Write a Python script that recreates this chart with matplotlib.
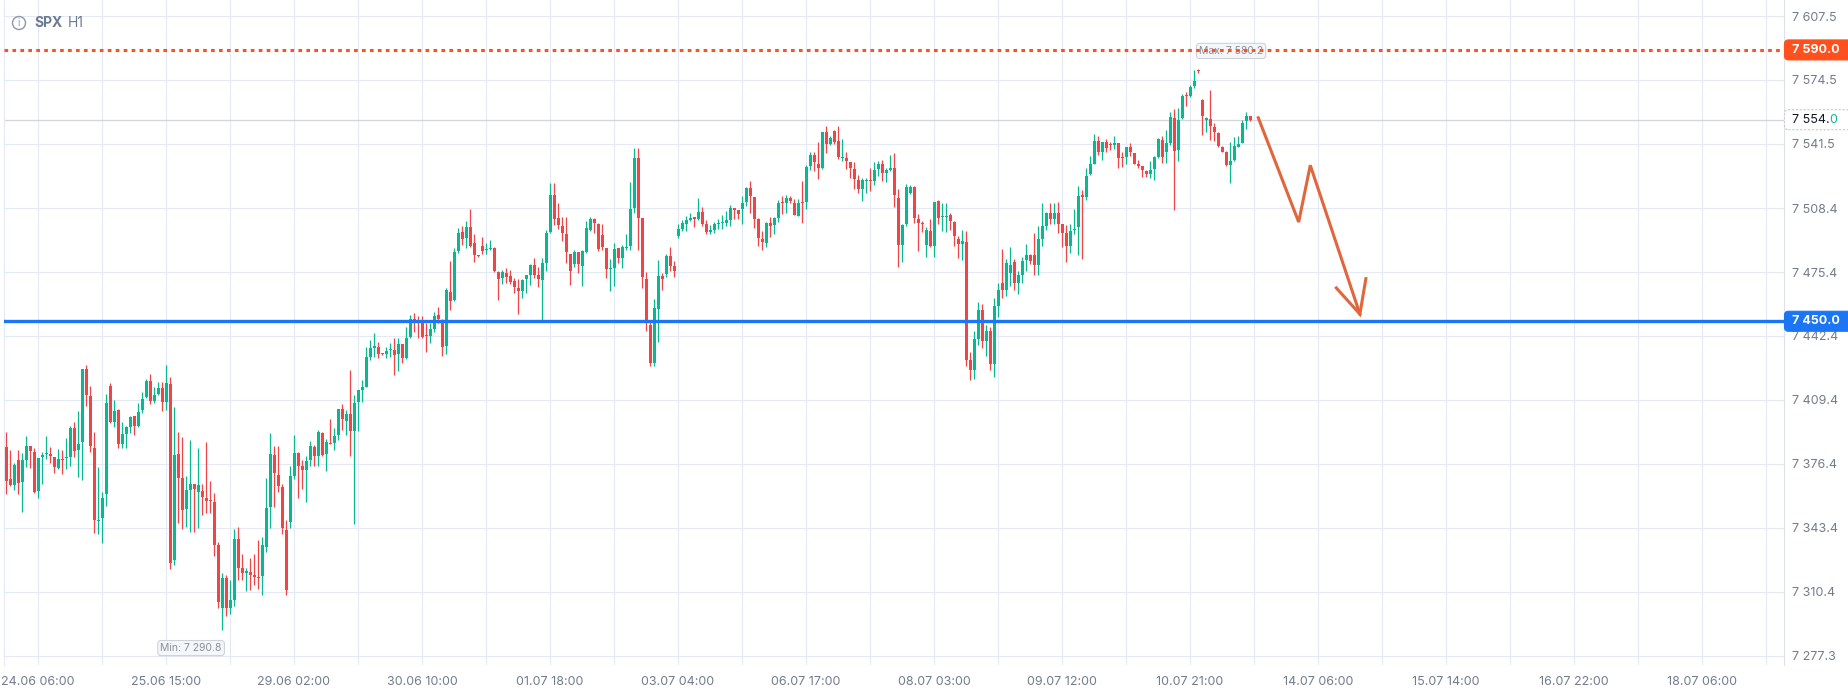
import numpy as np
import matplotlib.pyplot as plt
from matplotlib.patches import FancyBboxPatch, Circle
from matplotlib.transforms import IdentityTransform

plt.rcParams['font.family'] = ['Inter', 'DejaVu Sans']

# SPX H1 candles (open / high / low / close)
o = [7385.1, 7368.6, 7365.7, 7378.4, 7367.2, 7378.4, 7385.6, 7382.5, 7362.6, 7380.0,
     7381.4, 7381.5, 7380.0, 7374.3, 7378.8, 7379.5, 7380.0, 7394.9, 7383.6, 7387.7,
     7425.4, 7411.4, 7384.6, 7347.1, 7348.7, 7361.1, 7416.6, 7398.0, 7404.2, 7386.8,
     7391.8, 7395.4, 7401.1, 7396.0, 7404.2, 7410.9, 7419.2, 7408.9, 7412.5, 7415.6,
     7408.3, 7417.8, 7327.0, 7381.5, 7369.3, 7353.3, 7363.1, 7365.9, 7362.1, 7362.4,
     7358.8, 7357.4, 7356.7, 7334.7, 7302.0, 7317.5, 7302.0, 7306.0, 7337.6, 7322.8,
     7320.3, 7320.8, 7318.9, 7318.0, 7318.4, 7333.3, 7354.2, 7381.0, 7370.7, 7364.5,
     7342.3, 7346.4, 7370.2, 7382.0, 7375.3, 7373.3, 7378.4, 7385.1, 7380.5, 7392.3,
     7381.5, 7387.0, 7387.2, 7391.3, 7404.7, 7398.5, 7402.1, 7393.4, 7408.3, 7414.5,
     7416.1, 7431.5, 7436.2, 7436.7, 7433.1, 7433.1, 7435.1, 7435.2, 7433.1, 7438.3,
     7431.0, 7441.9, 7451.2, 7449.6, 7449.1, 7442.4, 7442.4, 7446.0, 7453.2, 7450.6,
     7437.2, 7465.1, 7460.9, 7486.2, 7496.0, 7492.9, 7498.6, 7490.4, 7483.8, 7488.8,
     7486.6, 7487.3, 7487.8, 7475.4, 7472.3, 7474.9, 7473.3, 7470.8, 7467.2, 7465.6,
     7471.8, 7473.9, 7479.0, 7473.9, 7471.3, 7480.1, 7496.0, 7515.1, 7503.3, 7499.1,
     7495.0, 7484.7, 7479.5, 7485.7, 7478.5, 7485.7, 7497.1, 7502.8, 7500.2, 7494.5,
     7487.8, 7476.9, 7477.5, 7487.8, 7482.6, 7487.8, 7488.8, 7508.4, 7534.2, 7503.3,
     7471.8, 7448.1, 7428.6, 7456.3, 7473.3, 7474.4, 7483.6, 7478.5, 7494.0, 7497.6,
     7500.2, 7502.2, 7503.5, 7502.7, 7506.3, 7500.2, 7496.0, 7497.1, 7500.2, 7500.7,
     7500.7, 7502.2, 7508.4, 7507.4, 7507.9, 7511.5, 7518.7, 7514.1, 7502.7, 7492.4,
     7490.4, 7500.7, 7499.6, 7503.2, 7511.5, 7511.0, 7513.6, 7511.0, 7504.3, 7511.5,
     7511.5, 7530.1, 7535.8, 7531.1, 7529.1, 7547.6, 7541.4, 7548.1, 7543.0, 7534.2,
     7534.2, 7532.2, 7528.5, 7522.9, 7518.2, 7522.3, 7522.9, 7522.3, 7528.5, 7531.1,
     7526.5, 7528.0, 7529.1, 7513.6, 7489.3, 7500.2, 7516.2, 7519.2, 7502.7, 7500.7,
     7489.4, 7496.6, 7488.8, 7512.1, 7503.8, 7503.9, 7504.8, 7501.2, 7492.5, 7489.9,
     7490.9, 7430.0, 7425.0, 7441.0, 7456.0, 7440.0, 7445.0, 7428.0, 7458.0, 7470.0,
     7466.0, 7475.0, 7480.6, 7470.0, 7474.0, 7481.6, 7484.2, 7484.2, 7479.0, 7492.5,
     7499.2, 7505.9, 7502.8, 7505.9, 7500.2, 7495.5, 7488.8, 7497.1, 7498.6, 7514.6,
     7514.1, 7526.0, 7531.2, 7543.0, 7537.3, 7542.5, 7541.0, 7540.9, 7542.0, 7534.3,
     7534.8, 7539.9, 7536.8, 7531.2, 7530.1, 7527.5, 7526.0, 7528.6, 7534.8, 7543.5,
     7537.3, 7542.0, 7554.9, 7538.4, 7554.9, 7566.2, 7566.2, 7571.4, 7579.8, 7564.2,
     7553.9, 7554.4, 7550.2, 7547.2, 7539.9, 7537.3, 7530.6, 7533.2, 7539.9, 7542.0,
     7553.3, 7555.9]
h = [7392.9, 7383.6, 7376.9, 7383.6, 7382.0, 7390.8, 7385.6, 7384.6, 7379.5, 7382.5,
     7390.8, 7385.1, 7380.0, 7384.1, 7383.6, 7389.8, 7396.0, 7398.0, 7403.7, 7425.4,
     7427.4, 7416.6, 7392.9, 7374.8, 7361.9, 7412.6, 7418.2, 7409.4, 7404.7, 7398.0,
     7396.0, 7401.1, 7401.1, 7407.8, 7413.5, 7420.2, 7422.8, 7416.1, 7418.7, 7418.7,
     7427.4, 7421.4, 7405.8, 7392.9, 7390.3, 7370.3, 7388.7, 7365.9, 7384.8, 7365.9,
     7387.5, 7367.8, 7361.4, 7336.0, 7320.0, 7319.0, 7316.5, 7342.8, 7344.0, 7329.9,
     7322.8, 7327.8, 7330.0, 7337.1, 7338.8, 7369.1, 7392.4, 7385.6, 7385.6, 7366.0,
     7347.5, 7375.3, 7391.3, 7382.5, 7378.4, 7380.5, 7388.2, 7386.2, 7393.9, 7392.9,
     7389.2, 7399.6, 7394.9, 7404.7, 7407.3, 7404.2, 7424.8, 7411.9, 7414.5, 7419.7,
     7436.7, 7440.3, 7443.9, 7439.3, 7433.5, 7436.7, 7438.8, 7441.4, 7441.4, 7438.3,
     7447.0, 7453.2, 7454.3, 7452.7, 7452.7, 7449.1, 7449.1, 7454.8, 7457.3, 7451.2,
     7467.0, 7481.1, 7487.8, 7498.1, 7499.1, 7501.7, 7507.9, 7495.0, 7484.0, 7493.5,
     7490.4, 7491.9, 7488.3, 7475.9, 7476.4, 7477.5, 7476.4, 7472.3, 7471.8, 7471.8,
     7473.9, 7479.5, 7482.6, 7478.0, 7482.6, 7497.1, 7521.3, 7521.3, 7511.0, 7503.8,
     7503.8, 7484.7, 7486.8, 7485.7, 7486.8, 7501.7, 7503.8, 7503.3, 7500.7, 7500.2,
     7487.8, 7482.1, 7490.4, 7487.8, 7489.3, 7495.0, 7521.8, 7539.4, 7539.4, 7503.3,
     7475.4, 7450.0, 7461.5, 7481.6, 7474.9, 7484.7, 7488.3, 7481.0, 7500.2, 7502.2,
     7504.3, 7505.8, 7503.8, 7513.6, 7508.9, 7502.2, 7499.6, 7501.2, 7502.7, 7504.8,
     7506.9, 7510.0, 7508.4, 7507.4, 7514.6, 7519.2, 7522.3, 7514.1, 7503.2, 7496.5,
     7501.2, 7503.8, 7503.8, 7512.5, 7514.6, 7515.1, 7514.6, 7513.1, 7513.1, 7522.3,
     7530.6, 7537.3, 7537.3, 7542.5, 7547.6, 7550.7, 7545.6, 7548.7, 7550.7, 7544.0,
     7537.3, 7532.2, 7532.2, 7525.4, 7523.9, 7523.9, 7529.0, 7532.2, 7532.7, 7533.2,
     7529.1, 7535.8, 7536.8, 7518.2, 7500.2, 7520.8, 7520.3, 7519.7, 7505.3, 7501.7,
     7498.6, 7502.8, 7511.6, 7512.6, 7511.0, 7511.0, 7505.9, 7501.7, 7494.0, 7497.1,
     7496.6, 7434.0, 7445.0, 7460.0, 7459.0, 7448.0, 7447.0, 7462.0, 7470.0, 7487.3,
     7482.1, 7488.3, 7482.0, 7476.0, 7483.0, 7489.9, 7484.7, 7495.5, 7499.2, 7511.0,
     7506.4, 7511.0, 7511.0, 7511.5, 7500.2, 7499.7, 7500.2, 7507.9, 7519.8, 7517.7,
     7529.1, 7535.3, 7546.6, 7545.6, 7542.5, 7544.1, 7542.5, 7545.6, 7542.0, 7537.3,
     7539.9, 7542.0, 7536.8, 7533.2, 7530.1, 7528.1, 7532.7, 7535.3, 7544.6, 7545.6,
     7548.7, 7558.0, 7559.5, 7560.1, 7567.3, 7568.3, 7571.9, 7579.7, 7580.2, 7564.5,
     7555.4, 7569.3, 7552.3, 7547.7, 7540.4, 7537.9, 7542.5, 7545.1, 7545.6, 7553.9,
     7558.0, 7555.9]
l = [7361.0, 7365.2, 7363.1, 7361.0, 7351.8, 7375.0, 7374.5, 7361.6, 7359.0, 7366.2,
     7379.0, 7376.9, 7371.9, 7373.8, 7371.4, 7373.9, 7375.5, 7380.0, 7369.8, 7368.3,
     7406.3, 7382.5, 7340.9, 7340.4, 7335.8, 7354.9, 7397.5, 7395.4, 7384.6, 7384.6,
     7384.6, 7392.4, 7391.3, 7395.4, 7402.7, 7410.4, 7407.3, 7407.8, 7412.0, 7403.7,
     7404.2, 7322.2, 7324.0, 7346.1, 7343.0, 7344.0, 7341.4, 7341.4, 7343.5, 7350.2,
     7351.2, 7351.2, 7328.9, 7302.0, 7290.8, 7298.0, 7299.0, 7303.0, 7316.5, 7316.5,
     7310.8, 7311.3, 7313.9, 7312.0, 7308.8, 7331.0, 7343.3, 7354.2, 7361.9, 7340.2,
     7308.7, 7343.3, 7368.6, 7358.8, 7363.5, 7356.7, 7375.3, 7375.3, 7375.3, 7380.5,
     7372.7, 7386.5, 7383.6, 7388.7, 7393.9, 7391.3, 7380.5, 7345.4, 7393.4, 7408.3,
     7416.1, 7430.0, 7431.5, 7431.0, 7432.5, 7431.0, 7431.5, 7422.3, 7424.3, 7428.5,
     7430.5, 7441.4, 7444.5, 7441.4, 7441.4, 7434.1, 7438.8, 7444.5, 7449.0, 7432.1,
     7433.0, 7455.8, 7460.4, 7485.2, 7489.3, 7487.8, 7488.3, 7480.6, 7483.2, 7484.7,
     7484.7, 7486.8, 7475.4, 7460.9, 7469.2, 7469.7, 7469.2, 7464.6, 7453.7, 7462.0,
     7464.6, 7468.7, 7472.3, 7467.7, 7450.1, 7475.9, 7495.5, 7499.7, 7497.6, 7491.4,
     7480.1, 7468.7, 7478.0, 7474.9, 7468.2, 7485.2, 7496.6, 7495.5, 7486.3, 7486.7,
     7472.3, 7465.6, 7468.2, 7480.0, 7477.5, 7486.8, 7486.8, 7506.0, 7486.8, 7467.1,
     7445.1, 7426.9, 7426.9, 7439.3, 7466.1, 7472.8, 7475.9, 7473.0, 7492.9, 7496.5,
     7496.5, 7501.7, 7498.6, 7502.2, 7499.1, 7495.0, 7495.0, 7495.5, 7497.6, 7497.6,
     7499.1, 7499.1, 7502.7, 7502.7, 7500.2, 7509.4, 7505.8, 7498.1, 7488.8, 7486.7,
     7488.3, 7493.5, 7495.0, 7501.2, 7505.3, 7505.8, 7511.0, 7504.8, 7504.3, 7500.7,
     7507.9, 7528.0, 7527.5, 7523.4, 7528.5, 7536.8, 7540.9, 7541.4, 7533.7, 7532.7,
     7528.5, 7523.9, 7518.2, 7516.1, 7512.0, 7516.1, 7517.2, 7520.3, 7524.9, 7522.3,
     7521.8, 7527.5, 7508.9, 7478.0, 7480.6, 7499.1, 7515.6, 7500.7, 7486.2, 7496.0,
     7483.2, 7488.3, 7483.2, 7500.2, 7496.6, 7496.0, 7497.1, 7488.8, 7482.7, 7481.6,
     7427.0, 7419.6, 7420.0, 7438.0, 7436.0, 7432.0, 7425.0, 7421.0, 7452.0, 7462.0,
     7463.0, 7468.0, 7466.0, 7464.0, 7470.0, 7476.0, 7479.6, 7474.0, 7474.0, 7488.8,
     7497.1, 7500.2, 7500.0, 7495.5, 7488.3, 7480.6, 7485.2, 7495.0, 7484.2, 7482.1,
     7512.6, 7525.5, 7531.2, 7535.8, 7533.2, 7537.3, 7538.4, 7538.9, 7529.1, 7529.6,
     7531.2, 7535.3, 7531.2, 7529.1, 7524.4, 7524.4, 7523.9, 7522.9, 7534.3, 7531.7,
     7531.7, 7541.0, 7507.4, 7532.7, 7554.4, 7561.1, 7565.7, 7570.5, 7578.0, 7546.1,
     7547.7, 7543.5, 7543.0, 7539.9, 7537.3, 7530.1, 7521.4, 7532.7, 7539.9, 7542.0,
     7549.2, 7553.3]
c = [7367.6, 7365.7, 7375.8, 7366.7, 7378.4, 7385.6, 7383.1, 7361.9, 7379.5, 7381.0,
     7381.6, 7380.5, 7374.8, 7378.9, 7378.4, 7380.0, 7394.9, 7383.2, 7386.7, 7425.4,
     7411.9, 7385.6, 7347.6, 7347.6, 7358.8, 7407.8, 7398.0, 7403.7, 7386.8, 7391.8,
     7395.4, 7400.6, 7396.0, 7403.2, 7409.9, 7419.2, 7408.9, 7412.0, 7415.6, 7408.3,
     7418.2, 7325.1, 7381.0, 7369.3, 7352.8, 7362.8, 7365.9, 7363.6, 7365.4, 7359.5,
     7357.4, 7357.1, 7334.7, 7305.0, 7317.5, 7302.0, 7306.0, 7337.6, 7322.8, 7320.3,
     7321.0, 7318.9, 7318.0, 7317.5, 7334.5, 7353.6, 7381.5, 7371.7, 7365.0, 7343.3,
     7311.3, 7370.2, 7382.0, 7375.3, 7373.3, 7377.9, 7385.6, 7380.5, 7392.9, 7381.0,
     7387.7, 7386.5, 7390.8, 7404.7, 7399.6, 7402.1, 7393.4, 7407.8, 7414.5, 7416.1,
     7431.5, 7436.2, 7437.2, 7433.1, 7433.0, 7434.6, 7435.2, 7432.6, 7438.3, 7431.0,
     7441.4, 7451.2, 7449.1, 7449.2, 7441.9, 7442.3, 7446.0, 7452.7, 7451.2, 7436.7,
     7466.1, 7460.4, 7485.7, 7495.5, 7492.4, 7498.6, 7488.8, 7484.2, 7483.6, 7486.2,
     7486.8, 7487.8, 7475.9, 7471.8, 7475.4, 7472.8, 7470.3, 7467.7, 7465.6, 7471.3,
     7473.9, 7479.0, 7473.9, 7471.8, 7480.1, 7495.5, 7515.1, 7502.8, 7499.7, 7495.5,
     7485.7, 7475.9, 7485.7, 7479.5, 7486.2, 7498.1, 7502.8, 7500.7, 7487.3, 7488.3,
     7476.9, 7477.0, 7487.3, 7482.6, 7488.3, 7488.3, 7507.9, 7534.2, 7503.3, 7472.8,
     7449.0, 7428.3, 7456.8, 7473.3, 7471.8, 7483.6, 7478.5, 7476.0, 7497.6, 7500.7,
     7502.2, 7503.2, 7503.0, 7506.3, 7500.2, 7496.0, 7497.1, 7500.2, 7500.7, 7500.9,
     7502.2, 7508.4, 7507.4, 7505.3, 7511.0, 7518.7, 7514.6, 7502.7, 7492.9, 7490.9,
     7500.7, 7499.1, 7503.2, 7511.0, 7511.0, 7513.6, 7512.0, 7504.8, 7511.0, 7511.0,
     7529.6, 7535.8, 7532.2, 7529.1, 7547.6, 7541.4, 7544.5, 7542.5, 7534.7, 7534.7,
     7532.7, 7529.1, 7523.4, 7518.2, 7522.9, 7522.9, 7522.3, 7528.0, 7531.1, 7526.5,
     7528.0, 7529.1, 7515.1, 7489.3, 7499.6, 7519.2, 7519.2, 7503.2, 7500.7, 7500.2,
     7497.1, 7488.8, 7511.6, 7503.3, 7503.9, 7504.3, 7501.7, 7494.0, 7489.9, 7491.4,
     7430.0, 7425.0, 7441.0, 7456.0, 7440.0, 7445.0, 7428.0, 7458.0, 7466.0, 7466.0,
     7480.1, 7479.0, 7470.0, 7474.0, 7481.1, 7484.2, 7481.1, 7479.0, 7492.5, 7499.2,
     7505.9, 7502.8, 7505.9, 7500.2, 7495.5, 7488.8, 7496.6, 7497.6, 7514.6, 7514.3,
     7525.0, 7531.2, 7543.0, 7537.3, 7542.5, 7539.4, 7540.9, 7542.0, 7534.3, 7534.2,
     7539.9, 7537.3, 7531.2, 7530.1, 7528.1, 7526.0, 7528.1, 7534.8, 7544.1, 7534.8,
     7542.0, 7555.4, 7537.9, 7553.9, 7566.2, 7566.0, 7570.9, 7574.0, 7579.0, 7555.9,
     7554.9, 7550.8, 7547.7, 7540.4, 7537.3, 7530.6, 7532.7, 7540.4, 7541.5, 7552.3,
     7555.9, 7554.0]

# price scale labels and time labels
y_ticks = [7277.3, 7310.4, 7343.4, 7376.4, 7409.4, 7442.4, 7475.4, 7508.4, 7541.5, 7574.5, 7607.5]
x_labels = ['24.06 06:00', '25.06 15:00', '29.06 02:00', '30.06 10:00', '01.07 18:00',
            '03.07 04:00', '06.07 17:00', '08.07 03:00', '09.07 12:00', '10.07 21:00',
            '14.07 06:00', '15.07 14:00', '16.07 22:00', '18.07 06:00']

resistance = 7590.0
support = 7450.0
last_price = 7554.0

# hand drawn zig-zag arrow (bar index, price)
arrow_x = [313.0, 323.1, 326.0, 338.4]
arrow_y = [7555.0, 7501.2, 7530.5, 7453.7]
head_x = [332.5, 338.4, 339.9]
head_y = [7467.2, 7453.7, 7472.0]

GREEN = '#09b88f'
RED = '#ef4546'
GRID = '#e3e9f5'
TXT = '#737b8c'

W, H = 1848, 695
fig = plt.figure(figsize=(W / 100, H / 100), dpi=100)
fig.patch.set_facecolor('white')
ax = fig.add_axes([4 / W, (H - 665) / H, 1780 / W, 665 / H])

o, h, l, c = map(np.array, (o, h, l, c))
x = np.arange(len(c))
col = np.where(c >= o, GREEN, RED)

ax.vlines(x, l, h, colors=col, lw=0.9, zorder=3)
ax.bar(x, np.maximum(np.abs(c - o), 0.6), bottom=np.minimum(o, c), width=0.74,
       color=col, linewidth=0, zorder=4)

ax.set_xlim(-0.575, 444.43)
ax.set_ylim(7272.65, 7615.76)

# grid
xt = [7.925 + 32 * k for k in range(len(x_labels))]
ax.set_xticks(xt)
ax.set_xticklabels(x_labels)
ax.set_xticks([7.925 + 16 + 32 * k for k in range(14)], minor=True)
ax.set_yticks(y_ticks)
ax.set_yticklabels([f'{v:,.1f}'.replace(',', ' ') for v in y_ticks])
ax.yaxis.tick_right()
ax.grid(True, which='both', color=GRID, lw=0.8, zorder=0)
ax.set_axisbelow(True)
ax.tick_params(axis='both', which='both', length=0)
ax.tick_params(axis='y', pad=5.8, labelsize=9, labelcolor=TXT)
ax.tick_params(axis='x', pad=8, labelsize=9, labelcolor=TXT)
for s in ['top', 'bottom']:
    ax.spines[s].set_visible(False)
ax.spines['left'].set_color(GRID)
ax.spines['right'].set_color('#dde1ea')

# horizontal levels
ax.axhline(last_price, color='#d3d5dd', lw=0.9, zorder=2)
ax.axhline(resistance, color='#ff501e', lw=2.2, linestyle=(0, (1.2, 1.4)),
           dash_capstyle='butt', zorder=6)
ax.axhline(support, color='#1a76f5', lw=2.4, zorder=6)

# arrow drawing
ax.plot(arrow_x, arrow_y, color='#e0663c', lw=2.2, solid_joinstyle='miter', zorder=7)
ax.plot(head_x, head_y, color='#e0663c', lw=2.2, solid_joinstyle='miter', zorder=7)

# max / min labels
fmt = lambda v: f'{v:,.1f}'.replace(',', ' ')
i_max, i_min = int(np.argmax(h)), int(np.argmin(l))
box = dict(boxstyle='round,pad=0.25,rounding_size=0.3', fc='#f5f6f9', ec='#c9cdd6', lw=0.7)
ax.text(i_max + 8.2, h[i_max] + 9.3, 'Max: ' + fmt(h[i_max]), ha='center', va='center',
        fontsize=7.5, color='#8b909c', bbox=box, zorder=5)
ax.text(i_min - 7.8, l[i_min] - 9.4, 'Min: ' + fmt(l[i_min]), ha='center', va='center',
        fontsize=7.5, color='#8b909c', bbox=box, zorder=5)

# title
fig.add_artist(Circle((19, H - 23), 6.5, transform=IdentityTransform(), fill=False,
                      ec='#8d97a8', lw=1.0))
fig.text(19 / W, (H - 23) / H, 'i', ha='center', va='center', fontsize=7, color='#8d97a8')
fig.text(34 / W, (H - 23) / H, 'SPX', ha='left', va='center', fontsize=10,
         fontweight='bold', color='#6c7a91')
fig.text(68 / W, (H - 23) / H, 'H1', ha='left', va='center', fontsize=10, color='#6c7a91')


# price boxes on the right scale
def price_box(val, face, edge, ls='solid'):
    yd = ax.transData.transform((0, val))[1]
    fig.add_artist(FancyBboxPatch((1784.5, yd - 10), 80, 20,
                                  boxstyle='round,pad=0,rounding_size=4',
                                  transform=IdentityTransform(), fc=face, ec=edge,
                                  lw=0.8, ls=ls, zorder=5))
    return yd / H


yf = price_box(resistance, '#ff501e', '#ff501e')
fig.text(1792 / W, yf, fmt(resistance), ha='left', va='center', fontsize=9,
         fontweight='bold', color='white', zorder=6)
yf = price_box(support, '#1a76f5', '#1a76f5')
fig.text(1792 / W, yf, fmt(support), ha='left', va='center', fontsize=9,
         fontweight='bold', color='white', zorder=6)
yf = price_box(last_price, 'white', '#c5c9d3', ls=(0, (2, 1.5)))
lp = fmt(last_price)
t1 = fig.text(1792 / W, yf, lp[:-1], ha='left', va='center', fontsize=9, color='#131722', zorder=6)
fig.canvas.draw()
bb = t1.get_window_extent()
fig.text(bb.x1 / W, yf, lp[-1], ha='left', va='center', fontsize=9, color='#09b88f', zorder=6)

fig.savefig('out.png', dpi=100)
